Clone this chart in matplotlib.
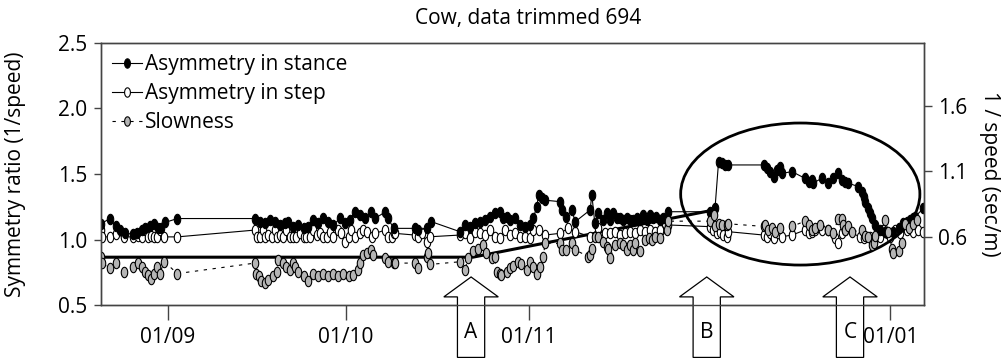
import numpy as np
import pandas as pd
import matplotlib
matplotlib.use("Agg")
import matplotlib.pyplot as plt
import matplotlib.dates as mdates
from matplotlib.path import Path
from matplotlib.markers import MarkerStyle
from matplotlib.patches import Ellipse, Polygon
from matplotlib.transforms import blended_transform_factory

plt.rcParams['font.family'] = ['Open Sans', 'DejaVu Sans']

# days counted from 01/09
start = pd.Timestamp('2009-09-01')

stance_days = [-11.3, -9.8, -8.8, -8.1, -7.3, -5.9, -5.2, -4.4, -3.9, -3.0, -2.3, -1.6, -1.1, -0.5, 1.6,
               14.7, 15.5, 16.4, 17.2, 18.1, 18.9, 19.8, 20.3, 21.2, 22.0, 22.9, 23.7, 24.5, 25.4, 26.2,
               27.1, 27.9, 29.1, 29.9, 30.7, 31.6, 32.4, 33.3, 34.3, 35.0, 36.7, 37.2, 38.1,
               41.7, 42.3, 43.7, 44.5, 49.3, 50.2, 51.0, 51.9, 52.7, 53.5, 54.4, 55.2, 56.1, 56.6, 57.2,
               57.8, 58.6, 59.5, 60.3, 61.1, 61.7, 62.3, 62.6, 63.1, 63.7,
               66.2, 66.5, 67.3, 68.2, 68.8, 71.3, 71.6, 72.1, 72.7, 73.5, 74.1, 74.7, 75.2, 75.8, 76.4,
               76.9, 77.5, 78.0, 78.6, 79.2, 79.7, 80.3, 80.9, 81.4, 82.0, 82.5, 83.1, 83.7, 84.5,
               91.6, 92.4, 93.0, 93.5, 94.1, 94.6, 100.6, 101.2, 101.7, 102.3, 102.8, 103.4, 103.7, 105.4,
               107.6, 108.2, 108.7, 109.0, 110.4, 111.5, 112.4, 113.2, 113.8, 114.3, 114.9,
               116.6, 117.2, 117.5, 117.7, 118.3, 118.6, 118.9, 119.4, 120.3, 121.1, 122.5, 123.4,
               124.2, 124.8, 125.3, 125.9, 126.2, 127.6]
stance = [1.12, 1.16, 1.10, 1.07, 1.05, 1.04, 1.05, 1.07, 1.085, 1.10, 1.12, 1.09, 1.085, 1.13, 1.16,
          1.16, 1.136, 1.124, 1.149, 1.136, 1.11, 1.124, 1.136, 1.098, 1.11, 1.085, 1.098, 1.149, 1.124, 1.162,
          1.136, 1.11, 1.162, 1.124, 1.149, 1.21, 1.187, 1.162, 1.21, 1.162, 1.21, 1.162, 1.085,
          1.085, 1.072, 1.085, 1.136, 1.06, 1.11, 1.098, 1.124, 1.136, 1.149, 1.174, 1.20, 1.212, 1.162, 1.174,
          1.149, 1.162, 1.111, 1.098, 1.111, 1.162, 1.25, 1.34, 1.315, 1.30,
          1.289, 1.225, 1.174, 1.225, 1.136, 1.225, 1.34, 1.124, 1.20, 1.149, 1.20, 1.149, 1.20, 1.162, 1.162,
          1.149, 1.162, 1.149, 1.149, 1.162, 1.149, 1.187, 1.149, 1.187, 1.162, 1.174, 1.149, 1.162, 1.212,
          1.212, 1.238, 1.594, 1.582, 1.569, 1.569, 1.569, 1.543, 1.518, 1.48, 1.53, 1.556, 1.505, 1.518,
          1.467, 1.442, 1.454, 1.43, 1.467, 1.43, 1.467, 1.505, 1.454, 1.442, 1.43,
          1.404, 1.366, 1.327, 1.289, 1.238, 1.20, 1.162, 1.111, 1.072, 1.06, 1.06, 1.085,
          1.124, 1.136, 1.149, 1.162, 1.174, 1.238]

step_days = [-11.3, -11.2, -9.8, -8.8, -7.4, -5.9, -5.0, -4.4, -3.8, -3.3, -2.8, -2.3, -1.9, -1.4, -0.6, 1.6,
             14.7, 15.0, 15.5, 16.1, 16.4, 16.9, 17.5, 18.1, 18.4, 18.9, 19.5, 20.0, 20.6, 21.2, 21.7, 22.3,
             22.9, 23.4, 24.0, 24.5, 25.1, 25.7, 26.2, 26.8, 27.4, 27.9, 28.8, 29.3, 29.9, 30.5, 31.0, 31.6,
             32.4, 33.0, 33.6, 34.4, 35.0, 36.7, 37.2, 37.8, 38.1,
             38.3, 41.7, 42.3, 42.9, 43.7, 44.3, 49.3, 50.2, 51.0, 51.9, 52.7, 53.5, 54.4, 55.2, 56.1, 56.9,
             57.8, 58.6, 59.5, 60.3, 61.1, 61.7, 62.6, 63.7,
             66.2, 67.6, 68.8, 71.3, 72.7, 73.0, 73.8, 74.7, 75.5, 76.4, 77.2, 78.0, 78.9, 79.7, 80.6, 81.4,
             82.3, 83.1, 83.9, 84.5,
             91.6, 92.1, 92.7, 93.2, 93.8, 94.4, 94.6, 100.6, 101.2, 101.7, 102.3, 103.1, 103.7, 105.4,
             107.6, 108.2, 108.7, 109.3, 110.4, 111.5, 112.7, 113.2, 113.8, 114.3, 116.9, 117.5, 118.6,
             119.2, 120.3, 120.8, 121.4, 122.0, 122.8, 123.6, 124.8, 125.9, 126.7, 127.6]
step = [1.07, 1.02, 1.02, 1.04, 1.02, 1.02, 1.025, 1.02, 1.07, 1.02, 1.025, 1.02, 1.02, 1.07, 1.02, 1.02,
        1.072, 1.021, 1.021, 1.072, 1.021, 1.034, 1.021, 1.072, 1.021, 1.034, 1.021, 1.072, 1.021, 1.021,
        1.021, 1.047, 1.021, 1.021, 1.021, 1.072, 1.034, 1.047, 1.021, 1.021, 1.06, 1.021, 1.072, 1.047,
        0.983, 1.021, 1.072, 1.021, 1.047, 1.072, 1.06, 1.021, 1.047, 1.072, 1.021, 1.021, 1.047,
        1.047, 1.034, 1.021, 1.047, 0.983, 1.021, 1.034, 1.047, 1.009, 1.06, 1.047, 1.034, 1.072, 1.021,
        1.009, 1.072, 1.034, 1.047, 1.021, 1.021, 1.009, 1.072, 1.072, 1.034,
        1.047, 1.085, 1.06, 1.021, 1.085, 1.021, 1.047, 1.047, 1.06, 1.034, 1.047, 1.06, 1.047, 1.072,
        1.06, 1.072, 1.06, 1.072, 1.124, 1.111,
        1.098, 1.072, 1.047, 1.06, 1.034, 1.021, 1.06, 1.034, 1.021, 1.047, 1.009, 1.047, 1.021, 1.034,
        1.072, 1.047, 1.06, 1.072, 1.072, 1.072, 1.009, 0.971, 1.047, 1.072, 1.021, 1.009, 1.021,
        0.996, 1.021, 1.072, 1.047, 1.021, 1.072, 1.047, 1.072, 1.06, 1.072, 1.06]

# slowness in sec/m (right axis)
slow_days = [-11.3, -11.2, -9.8, -8.8, -7.4, -5.9, -5.0, -4.4, -3.9, -3.4, -2.9, -2.3, -1.9, -1.4, -0.6, 1.6,
             14.7, 14.8, 15.3, 15.8, 16.4, 16.9, 17.8, 18.4, 18.6, 19.5, 20.0, 20.6, 21.2, 21.5, 22.0, 22.9,
             23.7, 24.5, 25.4, 26.2, 27.1, 27.9, 28.8, 29.6, 30.5, 31.3, 32.1, 32.4, 33.0, 33.6, 34.3, 34.7,
             36.7, 37.2, 38.1,
             38.3, 41.7, 42.3, 43.7, 44.0, 44.3, 49.3, 50.2, 50.7, 51.5, 52.4, 53.3, 53.8, 54.7, 55.2, 55.5,
             56.1, 56.3, 57.2, 57.8, 58.3, 59.2, 59.7, 60.6, 61.1, 61.7, 62.3, 62.8, 63.4, 63.7,
             66.2, 66.5, 67.3, 68.2, 68.8, 71.0, 71.3, 71.6, 72.1, 72.7, 73.5, 74.1, 74.4, 74.7, 75.5, 76.4,
             76.9, 77.5, 78.0, 78.6, 78.9, 79.7, 80.6, 81.2, 81.8, 82.3, 83.1, 84.3, 84.5,
             91.6, 92.2, 92.4, 93.0, 93.5, 94.4, 94.6, 100.6, 100.8, 101.4, 102.0, 102.6, 103.4, 105.4,
             107.6, 108.2, 108.7, 109.3, 110.1, 111.5, 112.4, 113.2, 113.8, 114.1, 114.3, 114.9, 115.5,
             117.2, 117.7, 118.3, 118.9, 119.2, 119.4, 121.1, 121.7, 122.3, 122.5, 123.4, 123.9, 124.5,
             125.1, 125.9, 126.5]
slowness = [0.45, 0.40, 0.36, 0.40, 0.33, 0.37, 0.40, 0.37, 0.33, 0.31, 0.28, 0.32, 0.37, 0.32, 0.41, 0.32,
            0.40, 0.32, 0.30, 0.26, 0.25, 0.27, 0.30, 0.33, 0.42, 0.40, 0.37, 0.35, 0.40, 0.37, 0.33, 0.30,
            0.26, 0.32, 0.30, 0.32, 0.30, 0.32, 0.30, 0.32, 0.30, 0.31, 0.35, 0.40, 0.46, 0.48, 0.50, 0.46,
            0.44, 0.41, 0.40,
            0.40, 0.40, 0.36, 0.45, 0.48, 0.39, 0.41, 0.35, 0.44, 0.49, 0.51, 0.54, 0.48, 0.44, 0.45, 0.33,
            0.32, 0.31, 0.33, 0.36, 0.38, 0.41, 0.39, 0.35, 0.41, 0.37, 0.32, 0.37, 0.45, 0.55,
            0.55, 0.50, 0.50, 0.55, 0.50, 0.45, 0.46, 0.51, 0.60, 0.60, 0.56, 0.52, 0.51, 0.44, 0.54, 0.55,
            0.54, 0.50, 0.54, 0.50, 0.55, 0.49, 0.58, 0.59, 0.58, 0.60, 0.59, 0.65, 0.72,
            0.72, 0.77, 0.68, 0.70, 0.69, 0.69, 0.70, 0.68, 0.69, 0.65, 0.67, 0.64, 0.67, 0.68,
            0.72, 0.69, 0.65, 0.67, 0.69, 0.65, 0.63, 0.74, 0.74, 0.69, 0.65, 0.68, 0.64,
            0.65, 0.61, 0.60, 0.54, 0.55, 0.61, 0.73, 0.64, 0.51, 0.48, 0.49, 0.55, 0.70,
            0.67, 0.70, 0.73]

# hand-drawn trend line (left axis units)
trend_days = [-11.3, 51.5, 91.6]
trend = [0.865, 0.865, 1.22]

tick_dates = ['2009-09-01', '2009-10-01', '2009-11-01', '2010-01-01']
arrow_days = [51.2, 91.0, 115.2]
arrow_labels = ['A', 'B', 'C']

FS = 15


def to_dates(days):
    return start + pd.to_timedelta(days, unit='D')


t = np.linspace(0, 2 * np.pi, 41)
oval = MarkerStyle(Path(np.column_stack([0.62 * np.cos(t), np.sin(t)]), closed=False))

fig = plt.figure(figsize=(10.07, 3.58), dpi=100)
ax = fig.add_axes([0.1003, 0.148, 0.8173, 0.732])
ax2 = ax.twinx()

ax.plot(to_dates(trend_days), trend, color='black', lw=2.2, zorder=1)
ax.plot(to_dates(step_days), step, color='black', lw=0.8, marker=oval, ms=7.5,
        mfc='white', mec='black', mew=0.8, zorder=2, label='Asymmetry in step')
ax.plot(to_dates(stance_days), stance, color='black', lw=0.8, marker=oval, ms=7.5,
        mfc='black', mec='black', mew=0.8, zorder=3, label='Asymmetry in stance')
ax2.plot(to_dates(slow_days), slowness, color='black', lw=0.8, ls=(0, (3, 5)), marker=oval, ms=7.5,
         mfc='#b5b5b5', mec='black', mew=0.8, label='Slowness')

xmin, xmax = to_dates([-11.3, 127.7])
ax.set_xlim(xmin, xmax)
ax.set_ylim(0.5, 2.5)
ax.set_yticks([0.5, 1.0, 1.5, 2.0, 2.5])
ax.yaxis.set_major_formatter(plt.FormatStrFormatter('%.1f'))
ax2.set_ylim(0.08, 2.08)
ax2.set_yticks([0.6, 1.1, 1.6])
ax2.yaxis.set_major_formatter(plt.FormatStrFormatter('%.1f'))

ax.set_xticks(pd.to_datetime(tick_dates))
ax.xaxis.set_major_formatter(mdates.DateFormatter('%d/%m'))

for a in (ax, ax2):
    for s in a.spines.values():
        s.set_color('#444444')
        s.set_linewidth(1.0)
ax.tick_params(axis='x', length=11, width=1, color='#444444', labelsize=FS, pad=5)
ax.tick_params(axis='y', length=5, width=1, color='#444444', labelsize=FS, pad=5)
ax2.tick_params(axis='y', length=6, width=1, color='#444444', labelsize=FS, pad=4)

ax.set_ylabel('Symmetry ratio (1/speed)', fontsize=FS, va='center')
ax.yaxis.set_label_coords(-0.104, 0.5)
ax2.set_ylabel('1 / speed (sec/m)', fontsize=FS, rotation=270, va='center')
ax2.yaxis.set_label_coords(1.08, 0.5)
ax.text(0.519, 1.095, 'Cow, data trimmed 694', transform=ax.transAxes,
        ha='center', va='center', fontsize=FS)

# circled region
cx = mdates.date2num(to_dates([106.8])[0])
ax.add_patch(Ellipse((cx, 1.347), 40.4, 1.084, fill=False, ec='black', lw=2.0, zorder=4))

# block arrows below the axis
tr = blended_transform_factory(ax.transData, ax.transAxes)
for d, lab in zip(arrow_days, arrow_labels):
    x0 = mdates.date2num(to_dates([d])[0])
    pts = [(x0, 0.107), (x0 + 4.6, 0.031), (x0 + 2.3, 0.031), (x0 + 2.3, -0.2),
           (x0 - 2.3, -0.2), (x0 - 2.3, 0.031), (x0 - 4.6, 0.031)]
    ax.add_patch(Polygon(pts, closed=True, fc='white', ec='black', lw=0.9,
                         transform=tr, clip_on=False, zorder=10))
    ax.text(x0, -0.105, lab, transform=tr, ha='center', va='center', fontsize=FS, zorder=11)

h1, l1 = ax.get_legend_handles_labels()
h2, l2 = ax2.get_legend_handles_labels()
order = [1, 0]
ax2.legend([h1[i] for i in order] + h2, [l1[i] for i in order] + l2, loc='upper left',
           frameon=False, fontsize=FS, handlelength=1.4, handletextpad=0.15,
           labelspacing=0.38, borderaxespad=0.25, borderpad=0.3, markerscale=0.9)

fig.savefig('out.png', dpi=100)
